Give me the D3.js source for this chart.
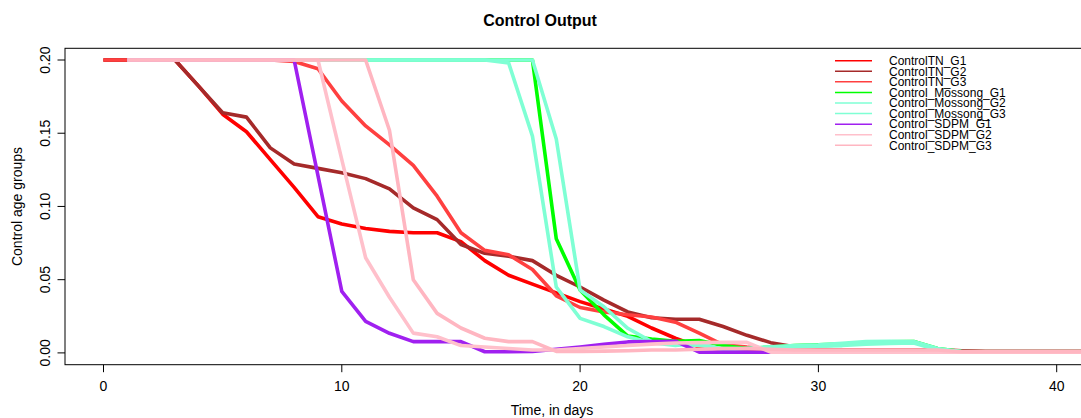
<!DOCTYPE html>
<html>
<head>
<meta charset="utf-8">
<script src="https://cdn.jsdelivr.net/npm/d3@7"></script>
<style>
    body { margin: 0; background: #fff; }
    svg { display: block; font-family: "Liberation Sans", Arial, Helvetica, sans-serif; }
    .tick-label { font-size: 14px; fill: #000; }
    .axis-title { font-size: 14px; fill: #000; }
    .legend-label { font-size: 12px; fill: #000; }
</style>
</head>
<body>
<div id="chart"></div>
<script>
    // data, one value per day (null = not plotted)
    const days = [0, 1, 2, 3, 4, 5, 6, 7, 8, 9, 10, 11, 12, 13, 14, 15, 16, 17, 18, 19, 20,
        21, 22, 23, 24, 25, 26, 27, 28, 29, 30, 31, 32, 33, 34, 35, 36, 37, 38, 39, 40, 41, 42];

    const xTicks = [0, 10, 20, 30, 40];
    const yTicks = [0, 0.05, 0.10, 0.15, 0.20];

    const seriesNames = ["ControlTN_G1", "ControlTN_G2", "ControlTN_G3",
        "Control_Mossong_G1", "Control_Mossong_G2", "Control_Mossong_G3",
        "Control_SDPM_G1", "Control_SDPM_G2", "Control_SDPM_G3"];
    const seriesColors = ["#FF0000", "#A52A2A", "#FF4040",
        "#00FF00", "#7FFFD4", "#7FFFD4",
        "#A020F0", "#FFC0CB", "#FFB6C1"];

    const tnG1 = [0.2, 0.2, 0.2, 0.2, 0.182, 0.163, 0.151, 0.132, 0.113, 0.093, 0.088,
        0.085, 0.083, 0.082, 0.082, 0.076, 0.063, 0.053, 0.047, 0.041, 0.035,
        0.030, 0.025, 0.017, 0.010, 0.004, 0.0025, 0.002, 0.002, 0.002, 0.002,
        0.002, 0.002, 0.002, 0.002, 0.002, 0.0015, 0.001, 0.001, 0.001, 0.001, 0.001, 0.001];
    const tnG2 = [0.2, 0.2, 0.2, 0.2, 0.182, 0.164, 0.161, 0.140, 0.129, 0.126, 0.123,
        0.119, 0.112, 0.099, 0.091, 0.074, 0.068, 0.066, 0.063, 0.053, 0.045,
        0.036, 0.028, 0.024, 0.023, 0.023, 0.018, 0.012, 0.007, 0.0042, 0.0025,
        0.002, 0.002, 0.002, 0.002, 0.002, 0.0015, 0.001, 0.001, 0.001, 0.001, 0.001, 0.001];
    const tnG3 = [0.2, 0.2, 0.2, 0.2, 0.2, 0.2, 0.2, 0.2, 0.199, 0.194, 0.172,
        0.155, 0.142, 0.128, 0.107, 0.082, 0.070, 0.067, 0.057, 0.039, 0.031,
        0.028, 0.026, 0.0245, 0.021, 0.0135, 0.0055, 0.004, 0.003, 0.0025, 0.002,
        0.002, 0.002, 0.002, 0.002, 0.002, 0.001, 0.001, 0.001, 0.001, 0.001, 0.001, 0.001];
    const mossG1 = [null, 0.2, 0.2, 0.2, 0.2, 0.2, 0.2, 0.2, 0.2, 0.2, 0.2,
        0.2, 0.2, 0.2, 0.2, 0.2, 0.2, 0.2, 0.2, 0.078, 0.043,
        0.026, 0.0115, 0.0095, 0.008, 0.0085, 0.005, 0.003, 0.004, 0.005, 0.0055,
        0.006, 0.007, 0.0075, 0.0078, 0.003, 0.001, 0.0008, 0.0008, 0.0008, 0.0008, 0.0008, 0.0008];
    const mossG2 = [null, 0.2, 0.2, 0.2, 0.2, 0.2, 0.2, 0.2, 0.2, 0.2, 0.2,
        0.2, 0.2, 0.2, 0.2, 0.2, 0.2, 0.198, 0.148, 0.045, 0.0236,
        0.018, 0.011, 0.007, 0.005, 0.0066, 0.002, 0.003, 0.0042, 0.005, 0.0055,
        0.0065, 0.0077, 0.008, 0.0078, 0.003, 0.001, 0.001, 0.001, 0.001, 0.001, 0.001, 0.001];
    const mossG3 = [null, 0.2, 0.2, 0.2, 0.2, 0.2, 0.2, 0.2, 0.2, 0.2, 0.2,
        0.2, 0.2, 0.2, 0.2, 0.2, 0.2, 0.2, 0.2, 0.146, 0.043,
        0.0315, 0.0168, 0.0077, 0.006, 0.005, 0.003, 0.003, 0.0035, 0.004, 0.0045,
        0.005, 0.006, 0.0065, 0.0068, 0.002, 0.001, 0.0008, 0.0008, 0.0008, 0.0008, 0.0008, 0.0008];
    const sdpmG1 = [null, 0.2, 0.2, 0.2, 0.2, 0.2, 0.2, 0.2, 0.2, 0.121, 0.042,
        0.0215, 0.0134, 0.0077, 0.0077, 0.0077, 0.0008, 0.0008, 0.001, 0.0025, 0.004,
        0.0058, 0.0075, 0.0078, 0.008, 0.0005, 0.0005, 0.0005, 0.0005, 0.0005, 0.0005,
        0.0005, 0.0005, 0.0005, 0.0005, 0.0005, 0.0005, 0.0005, 0.0005, 0.0005, 0.0005, 0.0005, 0.0005];
    const sdpmG2 = [null, 0.2, 0.2, 0.2, 0.2, 0.2, 0.2, 0.2, 0.2, 0.2, 0.132,
        0.065, 0.038, 0.0135, 0.011, 0.005, 0.004, 0.003, 0.002, 0.002, 0.003,
        0.004, 0.005, 0.006, 0.0068, 0.007, 0.0072, 0.0072, 0.0005, 0.0005, 0.0005,
        0.0005, 0.0005, 0.0005, 0.0005, 0.0005, 0.0005, 0.0005, 0.0005, 0.0005, 0.0005, 0.0005, 0.0005];
    const sdpmG3 = [null, 0.2, 0.2, 0.2, 0.2, 0.2, 0.2, 0.2, 0.2, 0.2, 0.2,
        0.2, 0.152, 0.050, 0.027, 0.017, 0.010, 0.0077, 0.0077, 0.001, 0.001,
        0.0012, 0.0015, 0.002, 0.002, 0.0025, 0.003, 0.003, 0.0025, 0.002, 0.002,
        0.002, 0.002, 0.002, 0.002, 0.002, 0.0008, 0.0008, 0.0008, 0.0008, 0.0008, 0.0008, 0.0008];

    const seriesValues = [tnG1, tnG2, tnG3, mossG1, mossG2, mossG3, sdpmG1, sdpmG2, sdpmG3];

    const width = 1081, height = 418;
    // plot box (R style, extends past the right edge of the window)
    const box = { left: 65, top: 48.3, right: 1104, bottom: 364.7 };

    const x = d3.scaleLinear().domain([0, 40]).range([103.5, 1056.7]);
    const y = d3.scaleLinear().domain([0, 0.2]).range([352.9, 60]);

    const svg = d3.select("#chart").append("svg")
        .attr("width", width)
        .attr("height", height);

    svg.append("defs").append("clipPath").attr("id", "plot-clip")
        .append("rect")
        .attr("x", box.left).attr("y", box.top)
        .attr("width", box.right - box.left).attr("height", box.bottom - box.top);

    //lines
    const line = d3.line()
        .defined(d => d.v !== null)
        .x(d => x(d.day))
        .y(d => y(d.v));

    const plot = svg.append("g").attr("clip-path", "url(#plot-clip)");
    seriesValues.forEach((vals, i) => {
        const pts = days.map((d, j) => ({ day: d, v: vals[j] }));
        plot.append("path")
            .datum(pts)
            .attr("fill", "none")
            .attr("stroke", seriesColors[i])
            .attr("stroke-width", 3.6)
            .attr("stroke-linejoin", "round")
            .attr("d", line);
    });

    //box
    svg.append("rect")
        .attr("x", box.left).attr("y", box.top)
        .attr("width", box.right - box.left).attr("height", box.bottom - box.top)
        .attr("fill", "none")
        .attr("stroke", "#000")
        .attr("stroke-width", 1);

    //x axis
    const xAxis = svg.append("g");
    xAxis.selectAll("line")
        .data(xTicks).enter().append("line")
        .attr("x1", d => x(d)).attr("x2", d => x(d))
        .attr("y1", box.bottom).attr("y2", box.bottom + 7.5)
        .attr("stroke", "#000");
    xAxis.selectAll("text")
        .data(xTicks).enter().append("text")
        .attr("class", "tick-label")
        .attr("x", d => x(d))
        .attr("y", 391)
        .attr("text-anchor", "middle")
        .text(d => d);

    //y axis
    const yAxis = svg.append("g");
    yAxis.selectAll("line")
        .data(yTicks).enter().append("line")
        .attr("x1", box.left - 7.5).attr("x2", box.left)
        .attr("y1", d => y(d)).attr("y2", d => y(d))
        .attr("stroke", "#000");
    yAxis.selectAll("text")
        .data(yTicks).enter().append("text")
        .attr("class", "tick-label")
        .attr("transform", d => `translate(50,${y(d)}) rotate(-90)`)
        .attr("text-anchor", "middle")
        .text(d => d3.format(".2f")(d));

    //titles
    svg.append("text")
        .attr("x", 540).attr("y", 26)
        .attr("text-anchor", "middle")
        .style("font-size", "16px")
        .style("font-weight", "bold")
        .text("Control Output");

    svg.append("text")
        .attr("class", "axis-title")
        .attr("x", 552).attr("y", 415)
        .attr("text-anchor", "middle")
        .text("Time, in days");

    svg.append("text")
        .attr("class", "axis-title")
        .attr("transform", `translate(22,${(box.top + box.bottom) / 2}) rotate(-90)`)
        .attr("text-anchor", "middle")
        .text("Control age groups");

    //legend
    const legend = svg.append("g").selectAll("g")
        .data(seriesNames).enter().append("g")
        .attr("transform", (d, i) => `translate(835,${60.7 + i * 10.58})`);
    legend.append("line")
        .attr("x1", 0).attr("x2", 37)
        .attr("stroke", (d, i) => seriesColors[i])
        .attr("stroke-width", 1.5);
    legend.append("text")
        .attr("class", "legend-label")
        .attr("x", 54).attr("y", 4.3)
        .text(d => d);
</script>
</body>
</html>
